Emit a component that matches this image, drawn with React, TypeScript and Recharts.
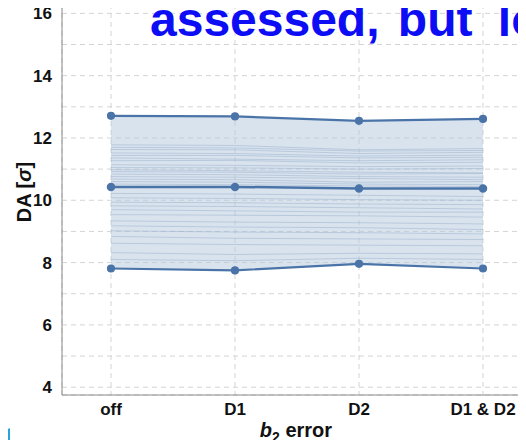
import React from "react"
import { Area, CartesianGrid, ComposedChart, Line, ReferenceLine, XAxis, YAxis } from "recharts"

// b2 error configurations on the x axis
const categories = ["off", "D1", "D2", "D1 & D2"]

// envelope and mean of the dynamic aperture over all seeds
const maxDA = [12.71, 12.69, 12.55, 12.61]
const meanDA = [10.43, 10.43, 10.38, 10.38]
const minDA = [7.81, 7.75, 7.96, 7.81]

// individual seeds (off, D1, D2, D1 & D2)
const seedDA = [
  [11.78, 11.76, 11.62, 11.66],
  [11.7, 11.68, 11.58, 11.6],
  [11.63, 11.62, 11.5, 11.54],
  [11.52, 11.5, 11.42, 11.45],
  [11.44, 11.44, 11.36, 11.38],
  [11.36, 11.32, 11.27, 11.3],
  [11.27, 11.28, 11.2, 11.22],
  [11.14, 11.12, 11.08, 11.1],
  [11.05, 11.04, 11.0, 11.02],
  [10.98, 10.95, 10.9, 10.88],
  [10.92, 10.9, 10.84, 10.86],
  [10.84, 10.82, 10.76, 10.74],
  [10.76, 10.74, 10.7, 10.66],
  [10.68, 10.66, 10.58, 10.6],
  [10.6, 10.58, 10.52, 10.5],
  [10.52, 10.5, 10.46, 10.44],
  [10.22, 10.2, 10.16, 10.12],
  [10.08, 10.06, 10.02, 10.0],
  [9.94, 9.92, 9.88, 9.86],
  [9.82, 9.8, 9.76, 9.72],
  [9.7, 9.66, 9.62, 9.62],
  [9.54, 9.52, 9.5, 9.46],
  [9.34, 9.3, 9.28, 9.24],
  [9.18, 9.14, 9.12, 9.06],
  [9.02, 8.98, 8.96, 8.92],
  [8.84, 8.78, 8.76, 8.74],
  [8.62, 8.58, 8.56, 8.54],
  [8.32, 8.26, 8.3, 8.28],
  [8.1, 8.06, 8.14, 8.1],
]

const yTicks = [4, 5, 6, 7, 8, 9, 10, 11, 12, 13, 14, 15, 16]
const yMin = 3.75
const yMax = 16.3

const data = categories.map((name, i) => {
  const row: any = { name, max: maxDA[i], mean: meanDA[i], min: minDA[i], band: [minDA[i], maxDA[i]] }
  seedDA.forEach((s, k) => { row["s" + k] = s[i] })
  return row
})

const lineColor = "#4a74a8"
const font = "'Liberation Sans', Arial, sans-serif"

function XLabel() {
  return (
    <text x={296} y={437} textAnchor="middle" fontFamily={font} fontWeight="bold" fontSize={20} fill="#111">
      <tspan fontStyle="italic">b</tspan>
      <tspan fontSize={14} dy={5}>2</tspan>
      <tspan dy={-5}> error</tspan>
    </text>
  )
}

function YLabel() {
  return (
    <text x={31} y={192} transform="rotate(-90 31 192)" textAnchor="middle" fontFamily={font} fontWeight="bold" fontSize={20} fill="#111">
      DA [<tspan fontStyle="italic">σ</tspan>]
    </text>
  )
}

export default function App() {
  return (
    <div style={{ position: "relative", width: 526, height: 448, margin: -8, overflow: "hidden", background: "#fff" }}>
      <ComposedChart width={540} height={448} data={data} margin={{ top: 4, right: 8, bottom: 0, left: 0 }}>
        <CartesianGrid stroke="#d4d4d4" strokeDasharray="5 4" />
        <XAxis
          dataKey="name"
          padding={{ left: 49, right: 49 }}
          height={53}
          stroke="#8a8a8a"
          tickLine={false}
          tickMargin={2}
          tick={{ fontFamily: font, fontWeight: "bold", fontSize: 17, fill: "#111" }}
          label={<XLabel />}
        />
        <YAxis
          type="number"
          domain={[yMin, yMax]}
          ticks={yTicks}
          interval={0}
          width={62}
          stroke="#8a8a8a"
          tickLine={false}
          tickMargin={4}
          tickFormatter={(v) => (v % 2 === 0 ? String(v) : "")}
          tick={{ fontFamily: font, fontWeight: "bold", fontSize: 17, fill: "#111" }}
          label={<YLabel />}
        />
        <ReferenceLine y={yMax} stroke="#8a8a8a" />
        <Area dataKey="band" type="linear" stroke="none" fill="#b3c7de" fillOpacity={0.5} isAnimationActive={false} />
        {seedDA.map((_, k) => (
          <Line key={k} dataKey={"s" + k} type="linear" stroke="#8fa8c6" strokeOpacity={0.55} strokeWidth={0.8} dot={false} isAnimationActive={false} />
        ))}
        <Line dataKey="max" type="linear" stroke={lineColor} strokeWidth={2.2} dot={{ r: 3, fill: lineColor, stroke: lineColor }} isAnimationActive={false} />
        <Line dataKey="mean" type="linear" stroke={lineColor} strokeWidth={2.5} dot={{ r: 3, fill: lineColor, stroke: lineColor }} isAnimationActive={false} />
        <Line dataKey="min" type="linear" stroke={lineColor} strokeWidth={2.2} dot={{ r: 3, fill: lineColor, stroke: lineColor }} isAnimationActive={false} />
      </ComposedChart>
      <svg width={526} height={60} style={{ position: "absolute", left: 0, top: 0 }}>
        <text x={150} y={36} fontFamily={font} fontWeight="bold" fontSize={48} fill="#0c0cf5">
          assessed,<tspan dx={5}> but</tspan><tspan dx={12}> loo</tspan>
        </text>
      </svg>
      <svg width={14} height={80} style={{ position: "absolute", left: 0, top: 368 }}>
        <line x1={6} y1={12} x2={6} y2={46} stroke="#333" strokeWidth={1.5} />
        <line x1={0} y1={29} x2={6} y2={29} stroke="#333" strokeWidth={1.2} />
        <path d="M0 68 Q5 62 10 60 L10 80 L0 80 Z" fill="#2aa3d6" />
      </svg>
    </div>
  )
}
